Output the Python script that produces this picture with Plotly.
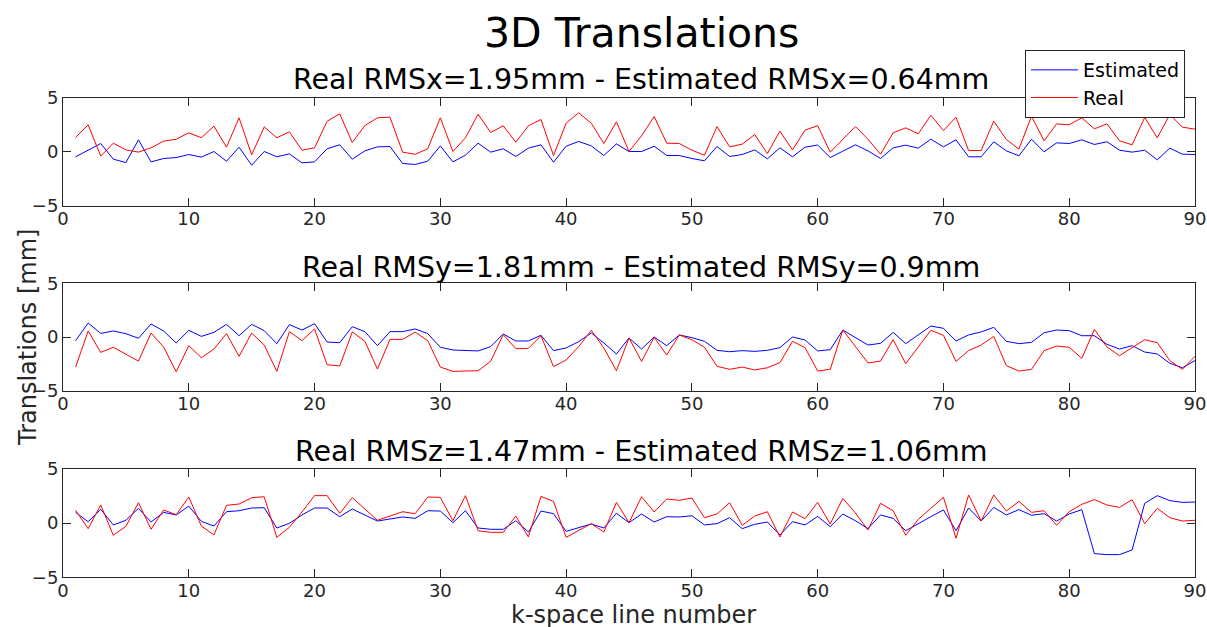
import plotly.graph_objects as go

k = list(range(1, 91))

est_x = [-0.49, 0.15, 0.74, -0.71, -1.02, 1.08, -0.96, -0.65, -0.56, -0.28,
         -0.52, 0.0, -0.9, 0.4, -1.27, 0.0, -0.49, -0.22, -1.05, -0.96,
         0.25, 0.62, -0.71, 0.06, 0.43, 0.46, -1.11, -1.2, -0.9, 0.52,
         -0.96, -0.34, 0.77, -0.06, 0.25, -0.46, 0.31, 0.62, -0.99, 0.49,
         0.93, 0.52, -0.37, 0.71, 0.0, 0.0, 0.49, -0.37, -0.37, -0.65,
         -0.86, 0.46, -0.46, -0.28, 0.15, -0.68, 0.34, -0.49, 0.4, 0.6,
         -0.56, 0.03, 0.62, 0.06, -0.65, 0.34, 0.59, 0.31, 1.14, 0.43,
         1.08, -0.49, -0.49, 0.9, 0.06, -0.4, 1.14, -0.03, 0.8, 0.74,
         1.08, 0.65, 0.9, 0.12, -0.06, 0.12, -0.77, 0.31, -0.25, -0.28]
real_x = [1.3, 2.47, -0.43, 0.77, 0.15, -0.06, 0.34, 0.96, 1.14, 1.73,
          1.27, 2.35, 0.4, 3.12, -0.31, 2.28, 1.27, 1.82, 0.12, 0.34,
          2.8, 3.49, 0.83, 2.4, 3.12, 3.18, -0.06, -0.26, 0.25, 3.12,
          0.0, 1.27, 3.46, 1.76, 2.38, 0.86, 2.38, 2.96, -0.37, 2.62,
          3.58, 2.62, 0.74, 2.75, 0.0, 1.45, 3.24, 0.77, 0.74, 0.12,
          -0.34, 2.31, 0.43, 0.68, 1.57, -0.19, 1.88, 0.15, 1.98, 2.39,
          -0.06, 1.14, 2.31, 1.14, -0.25, 1.73, 2.19, 1.64, 3.36, 1.94,
          3.18, 0.09, 0.09, 2.81, 1.11, 0.22, 3.27, 0.99, 2.56, 2.47,
          3.12, 2.1, 2.56, 0.99, 0.62, 3.15, 1.27, 3.43, 2.25, 2.07]

est_y = [-0.34, 1.3, 0.34, 0.56, 0.31, -0.12, 1.21, 0.56, -0.56, 0.62,
         0.06, 0.43, 1.18, 0.12, 1.18, 0.59, -0.62, 1.15, 0.65, 1.24,
         -0.47, -0.53, 0.96, 0.5, -0.81, 0.5, 0.5, 0.75, 0.31, -0.96,
         -1.21, -1.27, -1.3, -0.9, 0.28, -0.37, -0.37, 0.16, -1.27, -1.02,
         -0.43, 0.37, -0.56, -1.58, -0.09, -1.12, 0.0, -0.81, 0.19, -0.06,
         -0.4, -1.24, -1.37, -1.27, -1.34, -1.24, -0.99, 0.0, -0.28, -1.3,
         -1.18, 0.65, -0.06, -0.75, -0.59, 0.43, -0.62, 0.16, 1.02, 0.81,
         -0.37, 0.19, 0.47, 0.9, -0.4, -0.62, -0.5, 0.4, 0.65, 0.59,
         0.12, 0.12, -0.68, -1.12, -0.81, -1.4, -1.58, -2.45, -2.86, -2.2]
real_y = [-2.8, 0.56, -1.43, -0.96, -1.6, -2.24, 0.37, -0.93, -3.23, -0.81,
          -1.93, -1.12, 0.31, -1.8, 0.37, -0.75, -3.2, 0.5, -0.34, 0.75,
          -2.58, -2.7, 0.47, -0.4, -2.98, -0.22, -0.22, 0.45, -0.34, -2.8,
          -3.2, -3.17, -3.14, -2.27, 0.22, -1.09, -1.06, 0.12, -2.76, -2.14,
          -0.9, 0.62, -1.02, -3.14, -0.09, -2.27, -0.03, -1.68, 0.19, -0.25,
          -0.96, -2.73, -3.01, -2.8, -3.07, -2.86, -2.39, -0.4, -0.99, -3.17,
          -3.01, 0.65, -0.87, -2.42, -2.24, -0.25, -2.48, -0.96, 0.62, 0.16,
          -2.27, -1.27, -0.75, 0.06, -2.67, -3.17, -3.01, -1.27, -0.84, -0.96,
          -1.99, 0.71, -0.93, -1.74, -0.99, -0.25, -0.53, -2.2, -3.01, -1.8]

est_z = [0.98, 0.12, 1.26, -0.18, 0.25, 1.35, 0.09, 0.98, 0.74, 1.56,
         0.15, -0.28, 1.04, 1.13, 1.38, 1.41, -0.46, -0.03, 0.74, 1.38,
         1.38, 0.58, 1.29, 0.74, 0.18, 0.37, 0.55, 0.43, 1.13, 1.1,
         0.03, 1.13, -0.46, -0.58, -0.58, 0.21, -0.83, 1.1, 0.86, -0.77,
         -0.43, -0.09, -0.46, 0.89, 0.03, 0.83, 0.09, 0.58, 0.55, 0.67,
         -0.18, -0.06, 0.49, -0.52, -0.12, 0.09, -1.1, 0.12, -0.18, 0.61,
         -0.34, 0.83, 0.21, -0.52, 0.74, 0.43, -0.71, -0.03, 0.58, 1.2,
         -0.71, 1.38, 0.18, 1.44, 0.74, 1.23, 0.71, 0.86, 0.18, 0.83,
         1.23, -2.82, -2.91, -2.91, -2.48, 1.81, 2.52, 2.06, 1.9, 1.93]
real_z = [1.17, -0.52, 1.66, -1.13, -0.31, 1.87, -0.58, 1.2, 0.77, 2.39,
          -0.28, -1.1, 1.63, 1.75, 2.33, 2.42, -1.32, -0.4, 1.01, 2.52,
          2.52, 0.89, 2.33, 1.26, 0.25, 0.64, 1.04, 0.86, 2.39, 2.36,
          0.21, 2.52, -0.71, -0.86, -0.86, 0.64, -1.29, 2.45, 1.99, -1.32,
          -0.67, -0.06, -0.83, 1.9, 0.03, 2.42, 1.01, 2.21, 2.09, 2.3,
          0.49, 0.83, 1.87, -0.21, 0.64, 1.04, -1.29, 1.01, 0.4, 1.9,
          -0.09, 2.27, 0.92, -0.64, 1.81, 1.13, -1.13, 0.34, 1.35, 2.36,
          -1.41, 2.58, 0.18, 2.58, 1.1, 1.99, 0.98, 1.13, -0.21, 1.04,
          1.72, 2.15, 1.66, 1.44, 2.15, -0.06, 1.35, 0.49, 0.18, 0.25]

panel_titles = ["Real RMSx=1.95mm - Estimated RMSx=0.64mm",
                "Real RMSy=1.81mm - Estimated RMSy=0.9mm",
                "Real RMSz=1.47mm - Estimated RMSz=1.06mm"]
x_ticks = [0, 10, 20, 30, 40, 50, 60, 70, 80, 90]
y_ticks = [-5, 0, 5]

FONT = "DejaVu Sans"
AX = "#262626"
W, H = 1207, 627


def px(x):
    return x / W


def py(y):
    return 1 - y / H


fig = go.Figure()
series = [(est_x, real_x), (est_y, real_y), (est_z, real_z)]
# pixel bounds of each axes box (top, bottom)
boxes = [(97.5, 205.5), (283.3, 390.7), (468.7, 577.3)]
title_y = [79, 267, 451]
x0, x1 = 63, 1195

layout = {}
for i, ((est, real), (top, bot)) in enumerate(zip(series, boxes)):
    n = "" if i == 0 else str(i + 1)
    fig.add_trace(go.Scatter(x=k, y=est, mode="lines", name="Estimated",
                             line=dict(color="#0000FF", width=1),
                             xaxis="x" + n, yaxis="y" + n, showlegend=(i == 0)))
    fig.add_trace(go.Scatter(x=k, y=real, mode="lines", name="Real",
                             line=dict(color="#FF0000", width=1),
                             xaxis="x" + n, yaxis="y" + n, showlegend=(i == 0)))
    common = dict(ticks="inside", ticklen=8, tickcolor=AX, tickwidth=1,
                  showline=True, linecolor=AX, linewidth=1, automargin=False,
                  mirror="ticks", showgrid=False, zeroline=False,
                  ticklabeloverflow="allow",
                  tickfont=dict(family=FONT, size=18, color=AX))
    layout["xaxis" + n] = dict(domain=[px(x0), px(x1)], range=[0, 90],
                               anchor="y" + n, tickvals=x_ticks,
                               ticklabelstandoff=-3, **common)
    layout["yaxis" + n] = dict(domain=[py(bot), py(top)], range=[-5, 5],
                               anchor="x" + n, tickvals=y_ticks, **common)

annotations = [dict(text="3D Translations", x=px(641), y=py(33), xref="paper",
                    yref="paper", showarrow=False, xanchor="center", yanchor="middle",
                    font=dict(family=FONT, size=41, color="black"))]
for t, ty in zip(panel_titles, title_y):
    annotations.append(dict(text=t, x=px(641), y=py(ty), xref="paper", yref="paper",
                            showarrow=False, xanchor="center", yanchor="middle",
                            font=dict(family=FONT, size=28.5, color="black")))
annotations.append(dict(text="k-space line number", x=px(633), y=py(615),
                        xref="paper", yref="paper", showarrow=False,
                        xanchor="center", yanchor="middle",
                        font=dict(family=FONT, size=24, color=AX)))
annotations.append(dict(text="Translations [mm]", x=px(28), y=py(338),
                        xref="paper", yref="paper", showarrow=False, textangle=-90,
                        xanchor="center", yanchor="middle",
                        font=dict(family=FONT, size=24, color=AX)))

fig.update_layout(
    width=W, height=H,
    margin=dict(l=0, r=0, t=0, b=0, autoexpand=False),
    paper_bgcolor="white", plot_bgcolor="white",
    showlegend=True,
    legend=dict(x=px(1185), y=py(50), xanchor="right", yanchor="top",
                bordercolor=AX, borderwidth=1, bgcolor="white",
                font=dict(family=FONT, size=19, color="black"),
                tracegroupgap=0, itemwidth=47),
    annotations=annotations,
    **layout,
)

# remove the browser's default page margin so the figure fills the window
fig.write_html("out.html",
               config={"displayModeBar": False},
               post_script="document.body.style.margin='0';"
                           "document.body.style.overflow='hidden';")
